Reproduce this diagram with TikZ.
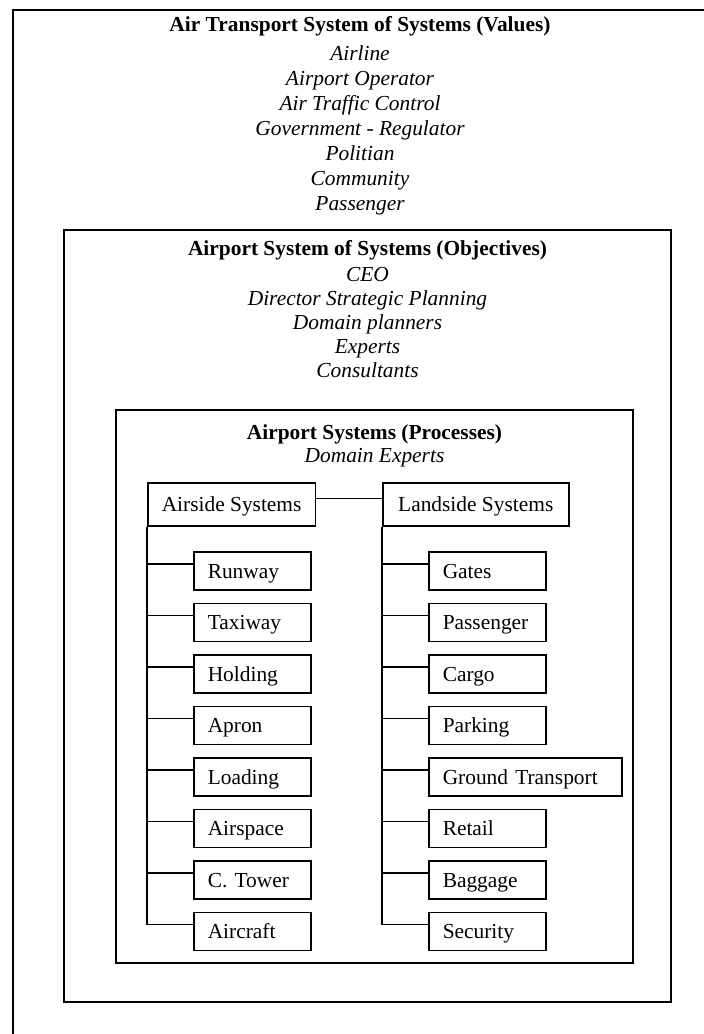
\documentclass[tikz,border=0pt]{standalone}
\usepackage{fontspec}
\setmainfont{Liberation Serif}
\usetikzlibrary{positioning, calc}

\begin{document}
\begin{tikzpicture}[x=0.5pt, y=-0.5pt, line width=0.75pt,
  font=\fontsize{10.7}{12.8}\selectfont,
  head/.style={font=\fontsize{10.7}{12.8}\selectfont\bfseries, anchor=base},
  role/.style={font=\fontsize{10.7}{12.8}\selectfont\itshape, anchor=base},
  sysbox/.style={draw, anchor=west, minimum height=21.5pt, inner xsep=7pt, text height=8pt, text depth=1pt},
  subbox/.style={draw, anchor=west, minimum height=19pt, inner xsep=7pt, text height=8pt, text depth=1pt, align=left}]
\useasboundingbox (0,0) rectangle (704,1034);
\clip (0,0) rectangle (704,1034);

% Frames
\draw (13,1050) -- (13,10) -- (720,10);
\draw (64,230) rectangle (671,1002);
\draw (116,410) rectangle (633,963);

% Values
\node[head] (values) at (360,31) {Air Transport System of Systems (Values)};
\foreach \who [count=\i] in {Airline, Airport Operator, Air Traffic Control, Government - Regulator, Politian, Community, Passenger}
  \node[role] (value\i) at (360,{35+25*\i}) {\who};

% Objectives
\node[head] (objectives) at (367.5,255) {Airport System of Systems (Objectives)};
\foreach \who [count=\i] in {CEO, Director Strategic Planning, Domain planners, Experts, Consultants}
  \node[role] (objective\i) at (367.5,{257+24*\i}) {\who};

% Processes
\node[head] (processes) at (374.5,439) {Airport Systems (Processes)};
\node[role] (experts) at (374.5,462) {Domain Experts};

% Systems
\node[sysbox, minimum width=83.5pt] (airside) at (147,504.5) {Airside Systems};
\node[sysbox, minimum width=93pt] (landside) at (382,504.5) {Landside Systems};
\draw ([yshift=3pt]airside.east) -- ([yshift=3pt]landside.west);

% Airside
\foreach \sub/\txt [count=\i] in {runway/Runway, taxiway/Taxiway, holding/Holding, apron/Apron, loading/Loading, airspace/Airspace, tower/C. Tower, aircraft/Aircraft} {
  \node[subbox, text width=44.5pt] (\sub) at (193,{571+51.5*(\i-1)}) {\txt};
  \draw (airside.south west) |- ([yshift=3.5pt]\sub.west);
}

% Landside
\foreach \sub/\txt/\w [count=\i] in {gates/Gates/44.5, passenger/Passenger/44.5, cargo/Cargo/44.5, parking/Parking/44.5, ground/Ground Transport/82.5, retail/Retail/44.5, baggage/Baggage/44.5, security/Security/44.5} {
  \node[subbox, text width=\w pt] (\sub) at (428,{571+51.5*(\i-1)}) {\txt};
  \draw (landside.south west) |- ([yshift=3.5pt]\sub.west);
}
\end{tikzpicture}
\end{document}
